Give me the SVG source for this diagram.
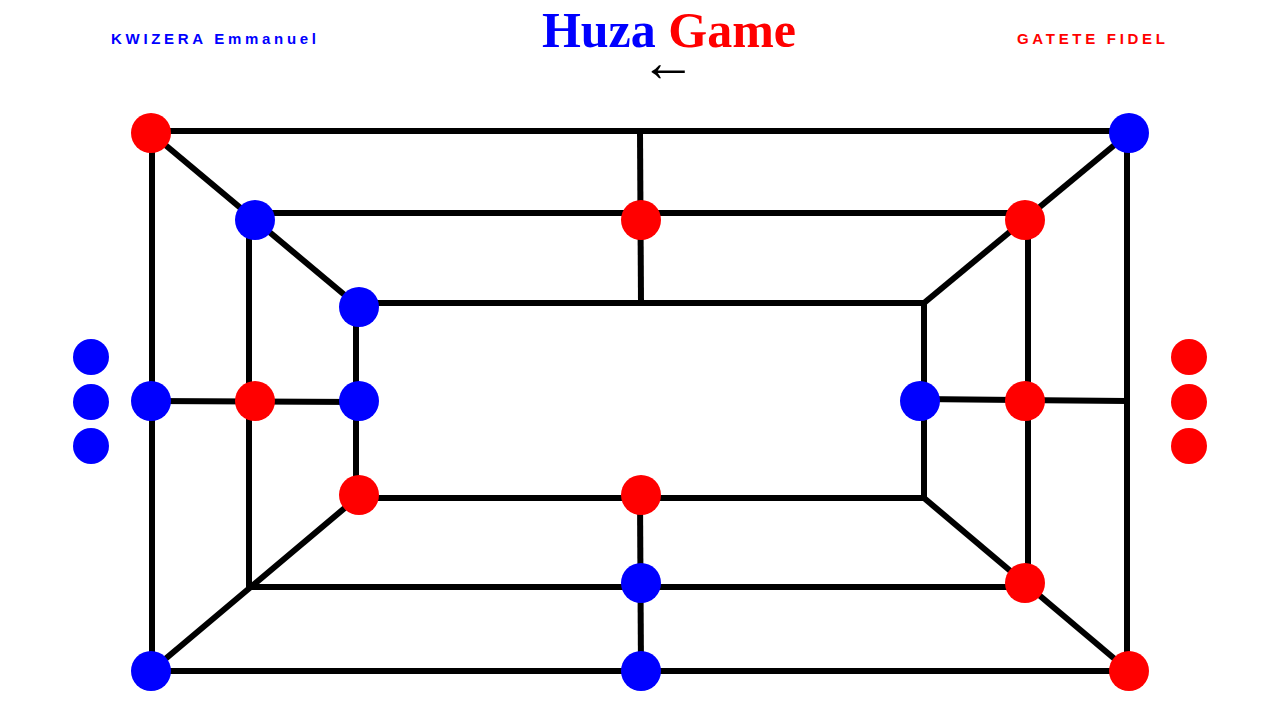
<svg xmlns="http://www.w3.org/2000/svg" width="1280" height="720" viewBox="0 0 1280 720">
<style>
.ln{stroke:#000;stroke-width:6;fill:none;stroke-linecap:butt}
.b{fill:#0000ff}
.r{fill:#ff0000}
.hdr{font-family:"Liberation Sans",Arial,sans-serif;font-weight:bold;font-size:15px;letter-spacing:3.7px}
.ttl{font-family:"Liberation Serif","Times New Roman",serif;font-weight:bold;font-size:50px}
</style>
<rect width="1280" height="720" fill="#fff"/>
<g id="header">
<text class="hdr" x="111" y="44" fill="#0000ff">KWIZERA Emmanuel</text>
<text class="ttl" x="669" y="47" text-anchor="middle"><tspan fill="#0000ff">Huza</tspan> <tspan fill="#ff0000">Game</tspan></text>
<text x="668" y="81" text-anchor="middle" font-family="'Liberation Serif','DejaVu Serif',serif" font-size="56" fill="#000">←</text>
<text class="hdr" x="1017" y="44" fill="#ff0000">GATETE FIDEL</text>
</g>
<g id="connectors">
<line class="ln" x1="151" y1="131" x2="1128" y2="131"/>
<line class="ln" x1="151" y1="671" x2="1128" y2="671"/>
<line class="ln" x1="152" y1="131" x2="152" y2="671"/>
<line class="ln" x1="1127" y1="131" x2="1127" y2="671"/>
<line class="ln" x1="640" y1="131" x2="641" y2="303"/>
<line class="ln" x1="640" y1="498" x2="641" y2="671"/>
<line class="ln" x1="255" y1="213" x2="1025" y2="213"/>
<line class="ln" x1="249" y1="220" x2="249" y2="588"/>
<line class="ln" x1="1028" y1="220" x2="1028" y2="588"/>
<line class="ln" x1="249" y1="587" x2="1025" y2="587"/>
<line class="ln" x1="356" y1="303" x2="924" y2="303"/>
<line class="ln" x1="356" y1="498" x2="924" y2="498"/>
<line class="ln" x1="356" y1="303" x2="356" y2="498"/>
<line class="ln" x1="924" y1="300" x2="924" y2="501"/>
<line class="ln" x1="151" y1="401" x2="359" y2="402"/>
<line class="ln" x1="920" y1="399" x2="1127" y2="401"/>
<line class="ln" x1="151" y1="133" x2="359" y2="307"/>
<line class="ln" x1="1129" y1="133" x2="924" y2="303"/>
<line class="ln" x1="151" y1="671" x2="359" y2="496"/>
<line class="ln" x1="1129" y1="671" x2="924" y2="498"/>
</g>
<g id="reserve-blue">
<circle class="b" cx="91" cy="357" r="18"/>
<circle class="b" cx="91" cy="402" r="18"/>
<circle class="b" cx="91" cy="446" r="18"/>
</g>
<g id="reserve-red">
<circle class="r" cx="1189" cy="357" r="18"/>
<circle class="r" cx="1189" cy="402" r="18"/>
<circle class="r" cx="1189" cy="446" r="18"/>
</g>
<g id="pieces">
<circle id="p1" class="r" cx="151" cy="133" r="20"/>
<circle id="p2" class="b" cx="1129" cy="133" r="20"/>
<circle id="p3" class="b" cx="255" cy="220" r="20"/>
<circle id="p4" class="r" cx="641" cy="220" r="20"/>
<circle id="p5" class="r" cx="1025" cy="220" r="20"/>
<circle id="p6" class="b" cx="359" cy="307" r="20"/>
<circle id="p7" class="b" cx="151" cy="401" r="20"/>
<circle id="p8" class="r" cx="255" cy="401" r="20"/>
<circle id="p9" class="b" cx="359" cy="401" r="20"/>
<circle id="p10" class="b" cx="920" cy="401" r="20"/>
<circle id="p11" class="r" cx="1025" cy="401" r="20"/>
<circle id="p12" class="r" cx="359" cy="495" r="20"/>
<circle id="p13" class="r" cx="641" cy="495" r="20"/>
<circle id="p14" class="b" cx="641" cy="583" r="20"/>
<circle id="p15" class="r" cx="1025" cy="583" r="20"/>
<circle id="p16" class="b" cx="151" cy="671" r="20"/>
<circle id="p17" class="b" cx="641" cy="671" r="20"/>
<circle id="p18" class="r" cx="1129" cy="671" r="20"/>
</g>
</svg>
